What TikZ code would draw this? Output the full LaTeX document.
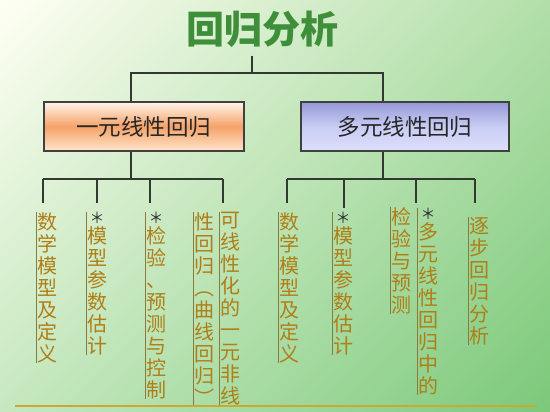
\documentclass[tikz,border=0pt]{standalone}
\usepackage{fontspec}
\setmainfont{Noto Sans CJK SC}
\usetikzlibrary{positioning,calc,shadings}
\definecolor{rootgreen}{HTML}{3E8E3A}
\definecolor{leafgold}{HTML}{B07E16}
\definecolor{bargold}{HTML}{8C7A3A}
\definecolor{rulegold}{HTML}{C9A834}
\definecolor{linkgray}{HTML}{333833}
\definecolor{astgray}{HTML}{2E2E2E}
\definecolor{bgtl}{HTML}{FFFFF4}
\definecolor{bgtr}{HTML}{B2DFA9}
\definecolor{bgbl}{HTML}{C6E8BF}
\definecolor{bgbr}{HTML}{7BC97A}
\newcommand{\stmark}{\textcolor{astgray}{\fontsize{15}{15}\selectfont ＊}\\[-2pt]}
\tikzset{
  rootb/.style={font=\fontsize{38}{40}\selectfont\bfseries, text=rootgreen,
    inner sep=0pt},
  unib/.style={draw=black!75, line width=1.1pt, minimum width=200pt,
    minimum height=49pt, top color=orange!8, bottom color=orange!20,
    middle color={rgb,255:red,245;green,162;blue,104}, text=black!85,
    font=\fontsize{22.5}{24}\selectfont},
  multb/.style={draw=black!75, line width=1.1pt, minimum width=208pt,
    minimum height=49pt, top color={rgb,255:red,150;green,152;blue,214},
    bottom color={rgb,255:red,221;green,224;blue,250},
    middle color={rgb,255:red,200;green,205;blue,244}, text=black!85,
    font=\fontsize{22.5}{24}\selectfont},
  leafb/.style={anchor=north west, align=center, inner xsep=1pt, inner ysep=0pt,
    text=leafgold, font=\fontsize{20}{22}\selectfont},
  link/.style={draw=linkgray, line width=1.2pt},
  bar/.style={draw=bargold, line width=0.9pt},
}
\begin{document}
\begin{tikzpicture}[x=1pt, y=-1pt]
  \useasboundingbox (0,0) rectangle (550,412);
  \shade[upper left=bgtl, upper right=bgtr, lower left=bgbl, lower right=bgbr]
    (0,0) rectangle (550,412);

  \node[rootb] (title) at (262,29) {回归分析};
  \node[unib] (uni) at (144,126.5) {一元线性回归};
  \node[multb] (mult) at (405,126.5) {多元线性回归};

  % leaves, one column each
  \node[leafb] (l1) at (36,212) {数\\学\\模\\型\\及\\定\\义};
  \node[leafb] (l2) at (86,212) {\stmark 模\\型\\参\\数\\估\\计};
  \node[leafb] (l3) at (145,212) {\stmark 检\\验\\、\\预\\测\\与\\控\\制};
  \node[leafb] (l4a) at (193,212) {性\\回\\归\\︵\\曲\\线\\回\\归\\︶};
  \node[leafb] (l4b) at (219,212) {可\\线\\性\\化\\的\\一\\元\\非\\线};
  \node[leafb] (r1) at (278,212) {数\\学\\模\\型\\及\\定\\义};
  \node[leafb] (r2) at (332,212) {\stmark 模\\型\\参\\数\\估\\计};
  \node[leafb] (r3) at (390,207) {检\\验\\与\\预\\测};
  \node[leafb] (r4) at (417,208) {\stmark 多\\元\\线\\性\\回\\归\\中\\的};
  \node[leafb] (r5) at (468,217) {逐\\步\\回\\归\\分\\析};

  \coordinate (j0) at (252,73);
  \coordinate (j1) at (131,73);
  \coordinate (j2) at (383,73);
  \draw[link, shorten <=8pt] (title.south -| j0) -- (j0);
  \draw[link] (j1 |- uni.north) -- (j1) -- (j2) -- (j2 |- mult.north);

  \coordinate (ka) at (43,179);
  \coordinate (kb) at (97,179);
  \coordinate (kc) at (150,179);
  \coordinate (kd) at (223,179);
  \draw[link] (uni.south -| j1) -- (j1 |- ka);
  \draw[link] (ka) -- (kd);
  \coordinate (ma) at (287,179);
  \coordinate (mb) at (344,179);
  \coordinate (mc) at (416,179);
  \coordinate (md) at (475,179);
  \draw[link] (mult.south -| j2) -- (j2 |- ma);
  \draw[link] (ma) -- (md);
  \foreach \k/\n/\s in {ka/l1/9,kb/l2/9,kc/l3/9,kd/l4b/9,ma/r1/9,mb/r2/4,mc/r4/5,md/r5/14}
    \draw[link, shorten >=\s pt] (\k) -- (\k |- \n.north);

  \foreach \n in {l1,l2,l3,l4a,l4b,r1,r2,r3,r4,r5}
    \draw[bar] (\n.north west) -- (\n.south west);
  \draw[rulegold, line width=1.4pt] (15,406) -- (537,406);
\end{tikzpicture}
\end{document}
